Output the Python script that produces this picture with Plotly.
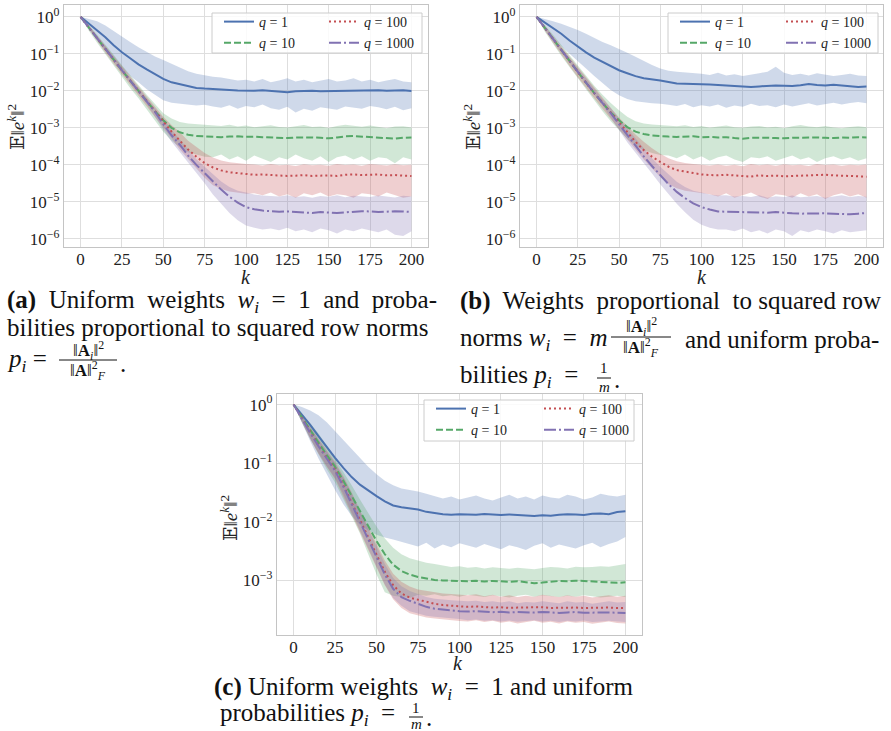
import math
import plotly.graph_objects as go

# iteration index (every 5th iteration)
k = list(range(0, 201, 5))

# ---- (a) uniform weights, row-norm probabilities ----
a_q1 = [1.0, 0.66, 0.43, 0.28, 0.17, 0.11, 0.076, 0.052, 0.038, 0.028, 0.021, 0.017, 0.015, 0.013, 0.012, 0.0115, 0.011, 0.0107, 0.0105, 0.0102, 0.0100,
        0.0101, 0.0103, 0.0099, 0.0094, 0.0092, 0.0097, 0.0099, 0.0100, 0.0098, 0.0099, 0.0101, 0.0100, 0.0103, 0.0104, 0.0102, 0.0104, 0.0101, 0.0103, 0.0104, 0.0099]
a_q1_hi = [1.0, 0.89, 0.76, 0.58, 0.42, 0.29, 0.21, 0.15, 0.112, 0.085, 0.068, 0.054, 0.042, 0.034, 0.029, 0.026, 0.024, 0.023,
           0.021, 0.019, 0.020, 0.018, 0.021, 0.017, 0.019, 0.022, 0.018, 0.020, 0.017, 0.019, 0.021, 0.018, 0.019, 0.022, 0.018, 0.020, 0.017, 0.019, 0.021, 0.018, 0.017]
a_q1_lo = [1.0, 0.5, 0.25, 0.13, 0.07, 0.04, 0.025, 0.017, 0.011, 0.008, 0.0056, 0.0048, 0.0044, 0.0042, 0.004, 0.0042,
           0.0038, 0.0035, 0.0041, 0.0033, 0.0039, 0.0036, 0.0043, 0.0034, 0.0031, 0.0037, 0.0026, 0.0033, 0.0029, 0.0036, 0.0034, 0.0031, 0.0038, 0.0035, 0.0033, 0.0039, 0.0036, 0.0032, 0.0037, 0.0030, 0.0034]
a_q10 = [1.0, 0.51, 0.26, 0.135, 0.071, 0.036, 0.019, 0.010, 0.0054, 0.0028, 0.0016, 0.0010, 0.00076, 0.00065, 0.0006, 0.00058,
         0.00057, 0.00056, 0.00058, 0.00059, 0.00057, 0.00058, 0.00056, 0.00055, 0.00054, 0.00053, 0.00055, 0.00056, 0.00055, 0.00054, 0.00052, 0.00055, 0.00059, 0.00060, 0.00058, 0.00056, 0.00055, 0.00053, 0.00051, 0.00054, 0.00055]
a_q10_hi = [1.0, 0.60, 0.33, 0.18, 0.095, 0.049, 0.026, 0.0145, 0.0079, 0.0044, 0.0025, 0.0018, 0.00145, 0.00132, 0.00126, 0.00126,
            0.00118, 0.00112, 0.00121, 0.00108, 0.00115, 0.00104, 0.0011, 0.00117, 0.00106, 0.00102, 0.00111, 0.00119, 0.00105, 0.00109, 0.00099, 0.00113, 0.00122, 0.00112, 0.00107, 0.00115, 0.00104, 0.00098, 0.00108, 0.00111, 0.00103]
a_q10_lo = [1.0, 0.42, 0.2, 0.1, 0.05, 0.024, 0.012, 0.0063, 0.0032, 0.0016, 0.00079, 0.00045, 0.0003, 0.00022, 0.00019, 0.000166,
            0.00016, 0.00019, 0.00014, 0.00017, 0.00013, 0.00018, 0.00015, 0.00012, 0.00016, 0.00014, 0.00019, 0.00015, 0.00013, 0.00017, 0.00012, 0.00016, 0.00018, 0.00014, 0.00017, 0.00013, 0.00016, 0.00015, 0.00011, 0.00016, 0.00014]
a_q100 = [1.0, 0.51, 0.26, 0.135, 0.071, 0.036, 0.019, 0.010, 0.0054, 0.0027, 0.0014, 0.00079, 0.00045, 0.00026, 0.000166, 0.000112, 0.000085, 0.000071, 0.000063, 0.000059, 0.000055,
          5.4e-5, 5.5e-5, 5.3e-5, 5.2e-5, 5.0e-5, 5.1e-5, 5.3e-5, 5.0e-5, 5.1e-5, 5.2e-5, 5.0e-5, 5.4e-5, 5.5e-5, 5.3e-5, 5.4e-5, 5.5e-5, 5.2e-5, 5.3e-5, 5.1e-5, 5.0e-5]
a_q100_hi = [1.0, 0.58, 0.31, 0.165, 0.088, 0.045, 0.024, 0.0128, 0.0069, 0.0038, 0.002, 0.0012, 0.00076, 0.00045, 0.0003, 0.00021, 0.000158, 0.000132, 0.000117, 0.00011, 0.000105,
             1.02e-4, 9.6e-5, 1.05e-4, 9.8e-5, 1.01e-4, 9.3e-5, 1.04e-4, 9.7e-5, 1.0e-4, 9.5e-5, 1.06e-4, 9.9e-5, 1.03e-4, 9.4e-5, 1.05e-4, 1.0e-4, 9.6e-5, 1.04e-4, 9.8e-5, 1.01e-4]
a_q100_lo = [1.0, 0.45, 0.22, 0.107, 0.054, 0.0275, 0.014, 0.0074, 0.0038, 0.002, 0.001, 0.00052, 0.00026, 0.00014, 0.000079, 0.000045, 0.000028, 0.0000224, 0.000019, 0.0000178, 0.0000166,
             1.7e-5, 1.5e-5, 1.8e-5, 1.4e-5, 1.6e-5, 1.3e-5, 1.7e-5, 1.5e-5, 1.8e-5, 1.4e-5, 1.6e-5, 1.5e-5, 1.3e-5, 1.7e-5, 1.6e-5, 1.4e-5, 1.8e-5, 1.5e-5, 1.3e-5, 1.4e-5]
a_q1000 = [1.0, 0.51, 0.26, 0.135, 0.071, 0.036, 0.019, 0.010, 0.0054, 0.0027, 0.00126, 0.00063, 0.00035, 0.000178, 0.0001, 0.000059, 0.0000355, 0.0000214, 0.0000138, 0.0000095, 0.0000072, 0.0000063, 0.0000058, 0.0000055,
           5.4e-6, 5.5e-6, 5.4e-6, 5.2e-6, 5.0e-6, 5.3e-6, 5.1e-6, 5.0e-6, 5.2e-6, 5.4e-6, 5.6e-6, 5.5e-6, 5.3e-6, 5.4e-6, 5.6e-6, 5.5e-6, 5.3e-6]
a_q1000_hi = [1.0, 0.56, 0.29, 0.155, 0.082, 0.042, 0.022, 0.0118, 0.0063, 0.0035, 0.0018, 0.00089, 0.00048, 0.00025, 0.000141, 0.0000891, 0.0000562, 0.0000355, 0.0000251, 0.00002, 0.0000178, 0.0000158, 0.0000148,
              1.45e-5, 1.4e-5, 1.5e-5, 1.35e-5, 1.42e-5, 1.3e-5, 1.45e-5, 1.38e-5, 1.5e-5, 1.33e-5, 1.47e-5, 1.4e-5, 1.36e-5, 1.48e-5, 1.41e-5, 1.32e-5, 1.46e-5, 1.39e-5]
a_q1000_lo = [1.0, 0.46, 0.23, 0.115, 0.06, 0.03, 0.016, 0.0083, 0.0044, 0.002, 0.00089, 0.00042, 0.00022, 0.000112, 0.00006, 0.0000316, 0.0000158, 0.0000089, 0.000005, 0.0000032, 0.0000023, 0.000002, 0.0000018,
              1.9e-6, 1.7e-6, 2.0e-6, 1.6e-6, 1.8e-6, 1.5e-6, 1.9e-6, 1.7e-6, 1.4e-6, 1.8e-6, 1.6e-6, 1.9e-6, 1.7e-6, 1.5e-6, 1.8e-6, 1.3e-6, 1.2e-6, 1.6e-6]

# ---- (b) row-norm weights, uniform probabilities ----
b_q1 = [1.0, 0.71, 0.5, 0.35, 0.23, 0.155, 0.11, 0.079, 0.06, 0.046, 0.036, 0.03, 0.025, 0.022, 0.02, 0.019, 0.0174, 0.0158, 0.0155, 0.0155, 0.0151,
        0.0148, 0.0145, 0.0141, 0.0140, 0.0136, 0.0128, 0.0132, 0.0138, 0.0140, 0.0137, 0.0135, 0.0141, 0.0152, 0.0143, 0.0139, 0.0146, 0.0140, 0.0134, 0.0128, 0.0131]
b_q1_hi = [1.0, 0.89, 0.76, 0.65, 0.54, 0.44, 0.35, 0.27, 0.21, 0.17, 0.138, 0.107, 0.083, 0.063, 0.05, 0.04, 0.035, 0.033, 0.032,
           0.03, 0.029, 0.027, 0.031, 0.026, 0.028, 0.025, 0.027, 0.03, 0.033, 0.045, 0.031, 0.027, 0.029, 0.026, 0.03, 0.028, 0.025, 0.027, 0.029, 0.026, 0.025]
b_q1_lo = [1.0, 0.52, 0.28, 0.16, 0.1, 0.063, 0.04, 0.025, 0.016, 0.0105, 0.0076, 0.006, 0.0052, 0.0048, 0.0046, 0.0045,
           0.0042, 0.0039, 0.0044, 0.0036, 0.0041, 0.0038, 0.0043, 0.0035, 0.004, 0.0037, 0.0045, 0.0039, 0.0041, 0.0036, 0.0043, 0.0038, 0.0042, 0.0046, 0.004, 0.0044, 0.0048, 0.0043, 0.0047, 0.005, 0.0046]
b_q10 = [1.0, 0.5, 0.25, 0.126, 0.063, 0.032, 0.0166, 0.0087, 0.0047, 0.0026, 0.0016, 0.00105, 0.00079, 0.00068, 0.00062, 0.00059,
         0.00058, 0.00057, 0.00058, 0.00059, 0.00056, 0.00057, 0.00055, 0.00056, 0.00053, 0.00051, 0.00054, 0.00055, 0.00054, 0.00053, 0.00052, 0.00054, 0.00055, 0.00056, 0.00055, 0.00054, 0.00053, 0.00055, 0.00054, 0.00056, 0.00055]
b_q10_hi = [1.0, 0.6, 0.33, 0.174, 0.091, 0.048, 0.025, 0.0138, 0.0079, 0.0047, 0.003, 0.002, 0.0015, 0.00132, 0.00123, 0.00117,
            0.00115, 0.0011, 0.00118, 0.00105, 0.00112, 0.00101, 0.00108, 0.00116, 0.00104, 0.001, 0.00109, 0.00113, 0.00103, 0.00107, 0.00098, 0.00111, 0.00119, 0.00108, 0.00104, 0.00113, 0.00102, 0.00097, 0.00106, 0.0011, 0.00104]
b_q10_lo = [1.0, 0.4, 0.186, 0.089, 0.044, 0.021, 0.0107, 0.0055, 0.0028, 0.0015, 0.00087, 0.0005, 0.00033, 0.00025, 0.00021, 0.000186,
            0.00018, 0.00015, 0.00019, 0.00014, 0.00017, 0.00013, 0.00016, 0.00018, 0.00014, 0.00012, 0.00016, 0.00015, 0.00017, 0.00013, 0.00015, 0.00018, 0.00014, 0.00016, 0.00012, 0.00015, 0.00017, 0.00014, 0.00016, 0.00013, 0.00015]
b_q100 = [1.0, 0.5, 0.25, 0.126, 0.063, 0.032, 0.0166, 0.0087, 0.0047, 0.0025, 0.00135, 0.00076, 0.00042, 0.00025, 0.000166, 0.00012, 0.000089, 0.000072, 0.000065, 0.000059, 0.000055,
          5.3e-5, 5.2e-5, 5.4e-5, 5.1e-5, 5.0e-5, 4.8e-5, 5.2e-5, 5.0e-5, 5.1e-5, 4.9e-5, 5.0e-5, 5.2e-5, 5.1e-5, 5.3e-5, 5.4e-5, 5.2e-5, 5.1e-5, 5.0e-5, 4.9e-5, 4.8e-5]
b_q100_hi = [1.0, 0.57, 0.3, 0.158, 0.083, 0.043, 0.0224, 0.0118, 0.0063, 0.0035, 0.0019, 0.0011, 0.00066, 0.00042, 0.00028, 0.0002, 0.000151, 0.000126, 0.000112, 0.000105, 0.0001,
             9.6e-5, 1.03e-4, 9.4e-5, 1.0e-4, 9.2e-5, 1.05e-4, 9.7e-5, 1.02e-4, 9.5e-5, 1.04e-4, 9.8e-5, 1.01e-4, 9.3e-5, 1.06e-4, 9.9e-5, 1.03e-4, 9.5e-5, 1.0e-4, 9.7e-5, 1.02e-4]
b_q100_lo = [1.0, 0.43, 0.2, 0.095, 0.047, 0.0234, 0.012, 0.0063, 0.0033, 0.0018, 0.00095, 0.0005, 0.00026, 0.00014, 0.000079, 0.000047, 0.00003, 0.0000234, 0.00002, 0.0000182, 0.000017,
             1.6e-5, 1.4e-5, 1.7e-5, 1.3e-5, 1.5e-5, 1.8e-5, 1.4e-5, 1.2e-5, 1.6e-5, 1.5e-5, 1.3e-5, 1.7e-5, 1.4e-5, 1.6e-5, 1.2e-5, 1.5e-5, 1.7e-5, 1.4e-5, 1.6e-5, 1.3e-5]
b_q1000 = [1.0, 0.5, 0.25, 0.126, 0.063, 0.032, 0.0166, 0.0087, 0.0047, 0.0025, 0.00126, 0.00063, 0.00033, 0.00017, 0.000093, 0.000052, 0.00003, 0.0000186, 0.0000126, 0.0000091, 0.0000072, 0.0000062, 0.0000055,
           5.4e-6, 5.3e-6, 5.4e-6, 5.3e-6, 5.2e-6, 5.1e-6, 5.3e-6, 5.0e-6, 4.9e-6, 4.8e-6, 4.9e-6, 5.0e-6, 4.9e-6, 4.8e-6, 4.7e-6, 4.6e-6, 4.8e-6, 5.0e-6]
b_q1000_hi = [1.0, 0.55, 0.28, 0.148, 0.078, 0.04, 0.021, 0.011, 0.006, 0.0034, 0.0018, 0.00095, 0.0005, 0.00027, 0.00015, 0.000089, 0.000056, 0.000035, 0.0000251, 0.00002, 0.0000178, 0.0000158, 0.0000148,
              1.5e-5, 1.4e-5, 1.45e-5, 1.35e-5, 1.5e-5, 1.3e-5, 1.42e-5, 1.36e-5, 1.48e-5, 1.33e-5, 1.4e-5, 1.45e-5, 1.3e-5, 1.38e-5, 1.5e-5, 1.36e-5, 1.43e-5, 1.37e-5]
b_q1000_lo = [1.0, 0.45, 0.22, 0.11, 0.056, 0.028, 0.015, 0.0078, 0.0041, 0.0019, 0.00087, 0.00041, 0.00021, 0.00011, 0.000058, 0.00003, 0.0000158, 0.0000089, 0.0000052, 0.0000033, 0.0000024, 0.000002, 0.0000018,
              1.8e-6, 1.6e-6, 1.9e-6, 1.5e-6, 1.7e-6, 1.4e-6, 1.8e-6, 1.6e-6, 1.2e-6, 1.7e-6, 1.5e-6, 1.8e-6, 1.6e-6, 1.4e-6, 1.7e-6, 1.5e-6, 1.6e-6, 1.7e-6]

# ---- (c) uniform weights, uniform probabilities ----
c_q1 = [1.0, 0.68, 0.45, 0.29, 0.186, 0.123, 0.083, 0.058, 0.043, 0.034, 0.0275, 0.0224, 0.019, 0.0178, 0.017, 0.0162, 0.0148, 0.0141, 0.0135, 0.0132, 0.0135,
        0.0134, 0.0132, 0.0136, 0.0133, 0.0131, 0.0134, 0.0132, 0.0128, 0.0126, 0.0129, 0.0127, 0.0132, 0.0135, 0.0133, 0.0131, 0.0137, 0.0139, 0.0135, 0.0147, 0.0151]
c_q1_hi = [1.0, 0.91, 0.79, 0.66, 0.5, 0.35, 0.25, 0.174, 0.12, 0.087, 0.065, 0.05, 0.042, 0.037, 0.035, 0.033, 0.03, 0.0275, 0.025,
           0.027, 0.024, 0.026, 0.028, 0.025, 0.023, 0.026, 0.029, 0.025, 0.027, 0.024, 0.028, 0.026, 0.025, 0.029, 0.027, 0.024, 0.026, 0.03, 0.028, 0.027, 0.029]
c_q1_lo = [1.0, 0.5, 0.24, 0.12, 0.063, 0.035, 0.02, 0.0126, 0.0089, 0.0071, 0.006, 0.0054, 0.005,
           0.0046, 0.0042, 0.0038, 0.0044, 0.0035, 0.0041, 0.0037, 0.0043, 0.0039, 0.0036, 0.0042, 0.0038, 0.0034, 0.004, 0.0037, 0.0033, 0.0039, 0.0043, 0.0036, 0.0041, 0.0038, 0.0035, 0.004, 0.0044, 0.0037, 0.0042, 0.0046, 0.0055]
c_q10 = [1.0, 0.6, 0.36, 0.224, 0.138, 0.087, 0.05, 0.028, 0.015, 0.0083, 0.0047, 0.0028, 0.00186, 0.00145, 0.00126, 0.00115, 0.00107, 0.00102, 0.001,
         0.00099, 0.00098, 0.00097, 0.00099, 0.00096, 0.00098, 0.00097, 0.00095, 0.00097, 0.00093, 0.0009, 0.00092, 0.00096, 0.00098, 0.00097, 0.00099, 0.00098, 0.00096, 0.00094, 0.00092, 0.00091, 0.00093]
c_q10_hi = [1.0, 0.71, 0.48, 0.32, 0.2, 0.12, 0.071, 0.042, 0.024, 0.0138, 0.0083, 0.0052, 0.0036, 0.0028, 0.0024, 0.0022, 0.002, 0.0019, 0.0018,
            0.0017, 0.00175, 0.00165, 0.0017, 0.0016, 0.00168, 0.00162, 0.00158, 0.00165, 0.0016, 0.00155, 0.00163, 0.0017, 0.00166, 0.0016, 0.00172, 0.00168, 0.0017, 0.00175, 0.00172, 0.0018, 0.0019]
c_q10_lo = [1.0, 0.5, 0.26, 0.14, 0.079, 0.047, 0.025, 0.0126, 0.0063, 0.0028, 0.00126, 0.00063, 0.00055, 0.00052, 0.0005,
            0.00057, 0.00055, 0.00058, 0.00054, 0.00056, 0.00053, 0.00057, 0.00055, 0.00052, 0.00056, 0.00054, 0.00051, 0.00055, 0.00057, 0.00053, 0.00056, 0.00054, 0.00052, 0.00055, 0.00053, 0.00056, 0.00054, 0.00051, 0.00053, 0.00055, 0.00052]
c_q100 = [1.0, 0.575, 0.34, 0.2, 0.123, 0.078, 0.042, 0.021, 0.0105, 0.0052, 0.00275, 0.0014, 0.00083, 0.0006, 0.00051, 0.00047, 0.00043, 0.0004, 0.00038, 0.00037, 0.00036,
          0.000355, 0.00036, 0.00035, 0.000345, 0.00035, 0.00034, 0.000345, 0.00035, 0.000355, 0.00035, 0.00034, 0.000345, 0.00035, 0.000345, 0.00034, 0.000345, 0.00035, 0.000345, 0.00034, 0.00034]
c_q100_hi = [1.0, 0.66, 0.42, 0.26, 0.166, 0.105, 0.06, 0.032, 0.0158, 0.0079, 0.0042, 0.0022, 0.0013, 0.00095, 0.00079, 0.0007, 0.00066, 0.00063, 0.0006, 0.00059, 0.00058,
             0.00056, 0.00058, 0.00054, 0.00057, 0.00053, 0.00056, 0.00052, 0.00055, 0.00053, 0.00057, 0.00054, 0.00052, 0.00056, 0.00053, 0.00055, 0.00051, 0.00054, 0.00056, 0.00053, 0.00055]
c_q100_lo = [1.0, 0.5, 0.26, 0.145, 0.087, 0.054, 0.028, 0.0138, 0.0068, 0.0033, 0.00166, 0.00083, 0.00048, 0.00034, 0.000275, 0.00025, 0.000234, 0.000224, 0.000214, 0.000209, 0.000204,
             0.0002, 0.00021, 0.000195, 0.000205, 0.00019, 0.0002, 0.000185, 0.000195, 0.000205, 0.00019, 0.000198, 0.000185, 0.0002, 0.00019, 0.000195, 0.000182, 0.00019, 0.0002, 0.000188, 0.000185]
c_q1000 = [1.0, 0.56, 0.33, 0.195, 0.117, 0.074, 0.04, 0.02, 0.01, 0.0049, 0.0025, 0.00126, 0.00072, 0.00052, 0.00045, 0.0004, 0.000355, 0.00033, 0.000316, 0.00031, 0.0003,
           0.000295, 0.0003, 0.00029, 0.000288, 0.000292, 0.000285, 0.00029, 0.000287, 0.000283, 0.00029, 0.000286, 0.00028, 0.000285, 0.00029, 0.000282, 0.000285, 0.00028, 0.000284, 0.000282, 0.00028]
c_q1000_hi = [1.0, 0.64, 0.4, 0.25, 0.158, 0.1, 0.056, 0.03, 0.015, 0.0074, 0.0038, 0.0019, 0.0011, 0.0008, 0.00066, 0.00058, 0.00052, 0.00049, 0.00047, 0.00046, 0.00045,
              0.00044, 0.00045, 0.00043, 0.00044, 0.00042, 0.00044, 0.00041, 0.00043, 0.00042, 0.00044, 0.00043, 0.00041, 0.00044, 0.00042, 0.00043, 0.0004, 0.00042, 0.00044, 0.00042, 0.00043]
c_q1000_lo = [1.0, 0.5, 0.27, 0.15, 0.09, 0.056, 0.03, 0.0145, 0.007, 0.0034, 0.0017, 0.00085, 0.0005, 0.00037, 0.0003, 0.00027, 0.00025, 0.00024, 0.00023, 0.000225, 0.00022,
              0.00021, 0.000215, 0.000205, 0.00021, 0.0002, 0.000208, 0.000198, 0.000205, 0.00021, 0.0002, 0.000205, 0.000195, 0.000205, 0.0002, 0.000208, 0.000195, 0.0002, 0.000205, 0.000198, 0.000196]

labels = ['<i>q</i> = 1', '<i>q</i> = 10', '<i>q</i> = 100', '<i>q</i> = 1000']
colors = ['#4C72B0', '#55A868', '#C44E52', '#8172B2']
dashes = ['solid', '7px,3px', '2px,3px', '12px,3px,2px,3px']
x_ticks = [0, 25, 50, 75, 100, 125, 150, 175, 200]

serif = 'Liberation Serif, DejaVu Serif, serif'
W, H = 891, 731


def rgba(h, a):
    return 'rgba(%d,%d,%d,%s)' % (int(h[1:3], 16), int(h[3:5], 16), int(h[5:7], 16), a)


fig = go.Figure()


def add_panel(n, series, legs):
    xa = 'x' if n == 1 else 'x%d' % n
    ya = 'y' if n == 1 else 'y%d' % n
    # shaded bands first
    for (mean, lo, hi), col in zip(series, colors):
        fig.add_trace(go.Scatter(x=k + k[::-1], y=hi + lo[::-1], fill='toself', fillcolor=rgba(col, 0.27),
                                 line=dict(width=0), mode='lines', hoverinfo='skip', showlegend=False,
                                 xaxis=xa, yaxis=ya))
    for i, ((mean, lo, hi), col) in enumerate(zip(series, colors)):
        fig.add_trace(go.Scatter(x=k, y=mean, mode='lines', name=labels[i],
                                 line=dict(color=col, width=2, dash=dashes[i]),
                                 legend=legs[0] if i < 2 else legs[1], xaxis=xa, yaxis=ya))


add_panel(1, [(a_q1, a_q1_lo, a_q1_hi), (a_q10, a_q10_lo, a_q10_hi), (a_q100, a_q100_lo, a_q100_hi), (a_q1000, a_q1000_lo, a_q1000_hi)], ['legend', 'legend2'])
add_panel(2, [(b_q1, b_q1_lo, b_q1_hi), (b_q10, b_q10_lo, b_q10_hi), (b_q100, b_q100_lo, b_q100_hi), (b_q1000, b_q1000_lo, b_q1000_hi)], ['legend3', 'legend4'])
add_panel(3, [(c_q1, c_q1_lo, c_q1_hi), (c_q10, c_q10_lo, c_q10_hi), (c_q100, c_q100_lo, c_q100_hi), (c_q1000, c_q1000_lo, c_q1000_hi)], ['legend5', 'legend6'])

# pixel boxes of the three panels (left, right, top, bottom)
boxes = [(64, 428, 5, 247), (520, 883, 5, 247), (277, 642, 394, 635)]
y_ranges = [[-6.22, 0.32], [-6.22, 0.32], [-3.93, 0.18]]
y_ticks = [[1, 0.1, 0.01, 1e-3, 1e-4, 1e-5, 1e-6]] * 2 + [[1, 0.1, 0.01, 1e-3]]

axis_style = dict(showline=True, mirror=True, linecolor='#c4c4c4', linewidth=1.2, automargin=False,
                  gridcolor='#dedede', gridwidth=1, zeroline=False, ticks='',
                  tickfont=dict(family=serif, size=17, color='#222'))

lay = dict(width=W, height=H, margin=dict(l=0, r=0, t=0, b=0, autoexpand=False),
           paper_bgcolor='white', plot_bgcolor='white', showlegend=True)

for i, (l, r, t, b) in enumerate(boxes):
    s = '' if i == 0 else str(i + 1)
    lay['xaxis' + s] = dict(axis_style, domain=[l / W, r / W], range=[-10, 210], tickvals=x_ticks,
                            anchor='y' + s, ticklabelstandoff=-4)
    lay['yaxis' + s] = dict(axis_style, domain=[1 - b / H, 1 - t / H], type='log', range=y_ranges[i],
                            tickvals=y_ticks[i],
                            ticktext=['10<sup>%s</sup>' % ('0' if v == 1 else '\u2212%d' % round(-math.log10(v))) for v in y_ticks[i]],
                            anchor='x' + s)

# legends: two columns per panel, each column its own legend
leg_font = dict(family=serif, size=14, color='#222')
leg_pos = [(219, 6), (324, 6), (675, 6), (781, 6), (431, 393), (539, 393)]
for j, (px, py) in enumerate(leg_pos):
    name = 'legend' if j == 0 else 'legend%d' % (j + 1)
    lay[name] = dict(x=px / W, y=1 - py / H, xanchor='left', yanchor='top', bgcolor='rgba(0,0,0,0)',
                     borderwidth=0, font=leg_font, tracegroupgap=0)

fig.update_layout(**lay)

# legend frames (white boxes behind the two legend columns)
frames = [(212, 422, 13, 53), (668, 878, 13, 53), (424, 634, 400, 441)]
for (x0, x1, y0, y1) in frames:
    fig.add_shape(type='rect', xref='paper', yref='paper', x0=x0 / W, x1=x1 / W, y0=1 - y1 / H, y1=1 - y0 / H,
                  line=dict(color='#cccccc', width=1), fillcolor='rgba(255,255,255,0.85)', layer='above')

cap_font = dict(family=serif, size=25, color='#111')
small = dict(family=serif, size=17, color='#111')
tiny = dict(family=serif, size=15, color='#111')
title_font = dict(family=serif, size=20, color='#222')


def text(x, y, s, font=cap_font, anchor='left', angle=0):
    fig.add_annotation(x=x / W, y=1 - y / H, xref='paper', yref='paper', text=s, showarrow=False,
                       xanchor=anchor, yanchor='middle', font=font, textangle=angle)


def frac(xc, y_num, y_bar, y_den, num, den, w, font=small):
    text(xc, y_num, num, font, 'center')
    text(xc, y_den, den, font, 'center')
    fig.add_shape(type='line', xref='paper', yref='paper', x0=(xc - w / 2) / W, x1=(xc + w / 2) / W,
                  y0=1 - y_bar / H, y1=1 - y_bar / H, line=dict(color='#111', width=1))


# axis titles
y_title = '\U0001D53C\u2016<i>e</i><sup><i>k</i></sup>\u2016<sup>2</sup>'
for (xk, yk), (xe, ye) in [((246, 277), (16, 127)), ((702, 277), (472, 127)), ((458, 663), (229, 518))]:
    text(xk, yk, '<i>k</i>', title_font, 'center')
    text(xe, ye, y_title, dict(title_font, size=19), 'center', -90)

num_ai = '\u2016<b>A</b><sub><i>i</i></sub>\u2016<sup>2</sup>'
den_af = '\u2016<b>A</b>\u2016<sup>2</sup><sub><i>F</i></sub>'
sp = '&nbsp;'

# (a)
text(5, 301, '<b>(a)</b>' + sp + ' Uniform' + sp + ' weights' + sp + ' <i>w<sub>i</sub></i> ' + sp + '= ' + sp + '1' + sp + ' and' + sp + ' proba-')
text(5, 327, 'bilities proportional to squared row norms')
text(5, 360, '<i>p<sub>i</sub></i> =')
frac(88, 350, 360, 370, num_ai, den_af, 58)
text(118, 363, '.')
# (b)
text(458, 301, '<b>(b)</b>' + sp + ' Weights' + sp + ' proportional' + sp + ' to squared row')
text(458, 340, 'norms <i>w<sub>i</sub></i> ' + sp + '= ' + sp + '<i>m</i>')
frac(641, 326, 337, 347, num_ai, den_af, 60)
text(683, 340, 'and uniform proba-')
text(458, 376, 'bilities <i>p<sub>i</sub></i> ' + sp + '=')
frac(604, 368, 378, 387, '1', '<i>m</i>', 14, tiny)
text(612, 379, '.')
# (c)
text(212, 688, '<b>(c)</b> Uniform weights ' + sp + '<i>w<sub>i</sub></i> ' + sp + '= ' + sp + '1 and uniform')
text(218, 714, 'probabilities <i>p<sub>i</sub></i> ' + sp + '=')
frac(416, 708, 717, 724, '1', '<i>m</i>', 14, tiny)
text(424, 717, '.')

# drop the default page margin so the figure sits at the window's corner
fig.write_html("out.html", config={'displayModeBar': False},
               post_script="document.body.style.margin='0px';")
